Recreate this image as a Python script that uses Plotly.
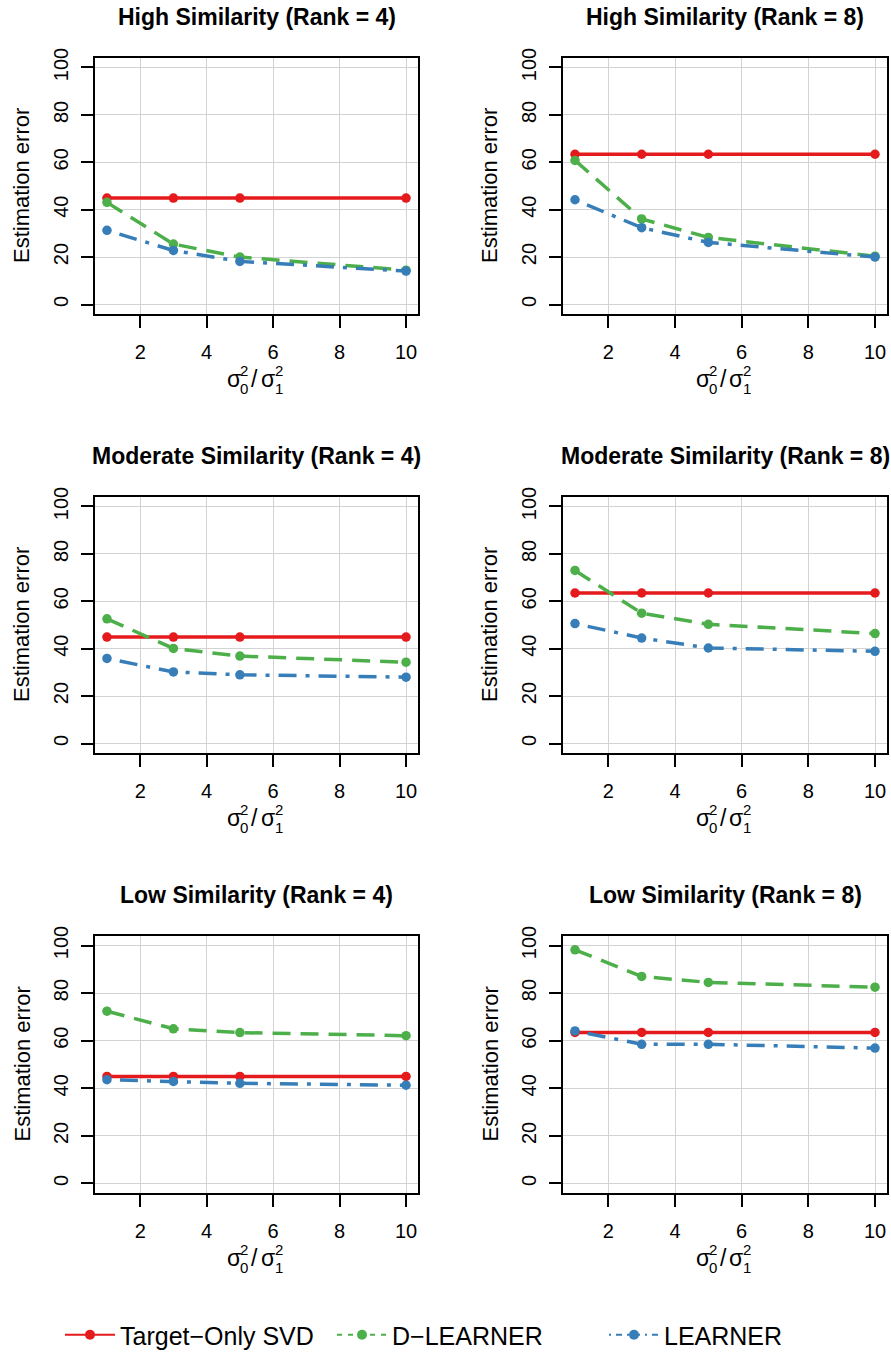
import plotly.graph_objects as go

# ---------------- data ----------------
X_RATIO = [1, 3, 5, 10]
X_TICKS = [2, 4, 6, 8, 10]
Y_TICKS = [0, 20, 40, 60, 80, 100]

PANEL_TITLES = [
    "High Similarity (Rank = 4)", "High Similarity (Rank = 8)",
    "Moderate Similarity (Rank = 4)", "Moderate Similarity (Rank = 8)",
    "Low Similarity (Rank = 4)", "Low Similarity (Rank = 8)",
]
SERIES_NAMES = ["Target\u2212Only SVD", "D\u2212LEARNER", "LEARNER"]

high4_svd = [44.9, 44.9, 44.9, 44.9]
high4_dlearner = [43.1, 25.5, 20.0, 14.5]
high4_learner = [31.3, 22.8, 18.2, 14.1]

high8_svd = [63.4, 63.4, 63.4, 63.4]
high8_dlearner = [60.8, 36.1, 28.3, 20.4]
high8_learner = [44.2, 32.4, 26.2, 20.0]

mod4_svd = [44.9, 44.9, 44.9, 44.9]
mod4_dlearner = [52.6, 40.1, 36.9, 34.3]
mod4_learner = [35.9, 30.2, 29.0, 28.0]

mod8_svd = [63.5, 63.5, 63.5, 63.5]
mod8_dlearner = [73.0, 55.0, 50.3, 46.4]
mod8_learner = [50.6, 44.5, 40.3, 38.9]

low4_svd = [45.0, 45.0, 45.0, 45.0]
low4_dlearner = [72.4, 65.0, 63.4, 62.1]
low4_learner = [43.6, 42.9, 42.1, 41.3]

low8_svd = [63.5, 63.5, 63.5, 63.5]
low8_dlearner = [98.2, 87.0, 84.5, 82.5]
low8_learner = [64.1, 58.5, 58.5, 56.9]

PANELS = [
    (high4_svd, high4_dlearner, high4_learner),
    (high8_svd, high8_dlearner, high8_learner),
    (mod4_svd, mod4_dlearner, mod4_learner),
    (mod8_svd, mod8_dlearner, mod8_learner),
    (low4_svd, low4_dlearner, low4_learner),
    (low8_svd, low8_dlearner, low8_learner),
]

# ---------------- style ----------------
W, H = 891, 1352
FONT = "Liberation Sans, Arial, Helvetica, sans-serif"
COLORS = ["#E41A1C", "#4DAF4A", "#377EB8"]
DASHES = ["solid", "18px,10px", "4px,9px,18px,9px"]
LEG_DASHES = ["solid", "5px,6px", "2px,5px,6px,5px"]
COL_PX = [(95, 418), (563, 887)]
ROW_PX = [(58, 314), (497, 753), (936, 1193)]

fig = go.Figure()
layout = {}
annotations = []


def px_x(p):
    return p / W


def px_y(p):
    return 1 - p / H


for i, series in enumerate(PANELS):
    r, c = divmod(i, 2)
    k = i + 1
    xa = "x" if k == 1 else f"x{k}"
    ya = "y" if k == 1 else f"y{k}"
    x0, x1 = COL_PX[c]
    y0, y1 = ROW_PX[r]
    for s, vals in enumerate(series):
        fig.add_trace(go.Scatter(
            x=X_RATIO, y=vals, mode="lines+markers",
            line=dict(color=COLORS[s], width=3.5, dash=DASHES[s]),
            marker=dict(color=COLORS[s], size=9.5),
            xaxis=xa, yaxis=ya, showlegend=False, name=SERIES_NAMES[s],
        ))
    common = dict(
        showline=True, linecolor="black", linewidth=1.8, mirror=True,
        ticks="outside", ticklen=12, tickwidth=1.6, tickcolor="black",
        showgrid=True, gridcolor="#D3D3D3", gridwidth=1.2, zeroline=False,
        tickfont=dict(family=FONT, size=20, color="black"),
    )
    layout["xaxis" if k == 1 else f"xaxis{k}"] = dict(
        domain=[px_x(x0), px_x(x1)], anchor=ya, range=[0.64, 10.36],
        tickmode="array", tickvals=X_TICKS, ticklabelstandoff=7, **common)
    layout["yaxis" if k == 1 else f"yaxis{k}"] = dict(
        domain=[px_y(y1), px_y(y0)], anchor=xa, range=[-4, 104],
        tickmode="array", tickvals=Y_TICKS, tickangle=-90, ticklabelstandoff=5, **common)

    cx = (x0 + x1) / 2
    # panel title
    annotations.append(dict(
        text=f"<b>{PANEL_TITLES[i]}</b>", x=px_x(cx), y=px_y(y0 - 41),
        xref="paper", yref="paper", showarrow=False, xanchor="center", yanchor="middle",
        font=dict(family=FONT, size=23, color="black")))
    # y axis title
    annotations.append(dict(
        text="Estimation error", x=px_x(x0 - 73), y=px_y((y0 + y1) / 2),
        xref="paper", yref="paper", showarrow=False, textangle=-90,
        xanchor="center", yanchor="middle",
        font=dict(family=FONT, size=22, color="black")))
    # x axis title: sigma_0^2 / sigma_1^2 (stacked scripts)
    by = y1 + 65
    parts = [
        ("\u03c3", -22.5, 0, 23),
        ("2", -12.5, -9, 15),
        ("0", -12.5, 9, 15),
        ("/", -2, 0, 23),
        ("\u03c3", 11, 0, 23),
        ("2", 22, -9, 15),
        ("1", 22, 9, 15),
    ]
    for txt, dx, dy, fs in parts:
        annotations.append(dict(
            text=txt, x=px_x(cx + dx), y=px_y(by + dy),
            xref="paper", yref="paper", showarrow=False,
            xanchor="center", yanchor="middle",
            font=dict(family=FONT, size=fs, color="black")))

# legend-only traces
for s in range(3):
    fig.add_trace(go.Scatter(
        x=[None], y=[None], mode="lines+markers", name=SERIES_NAMES[s],
        line=dict(color=COLORS[s], width=2, dash=LEG_DASHES[s]),
        marker=dict(color=COLORS[s], size=10),
        showlegend=True,
    ))

fig.update_layout(
    width=W, height=H,
    margin=dict(l=0, r=0, t=0, b=0, autoexpand=False),
    paper_bgcolor="white", plot_bgcolor="white",
    font=dict(family=FONT, color="black"),
    annotations=annotations,
    legend=dict(
        orientation="h", x=px_x(60), xanchor="left", y=px_y(1335), yanchor="middle",
        font=dict(family=FONT, size=25, color="black"),
        itemwidth=50, entrywidth=207, entrywidthmode="pixels", bgcolor="rgba(0,0,0,0)",
        itemclick=False, itemdoubleclick=False,
    ),
    **layout,
)

fig.write_html("out.html")
